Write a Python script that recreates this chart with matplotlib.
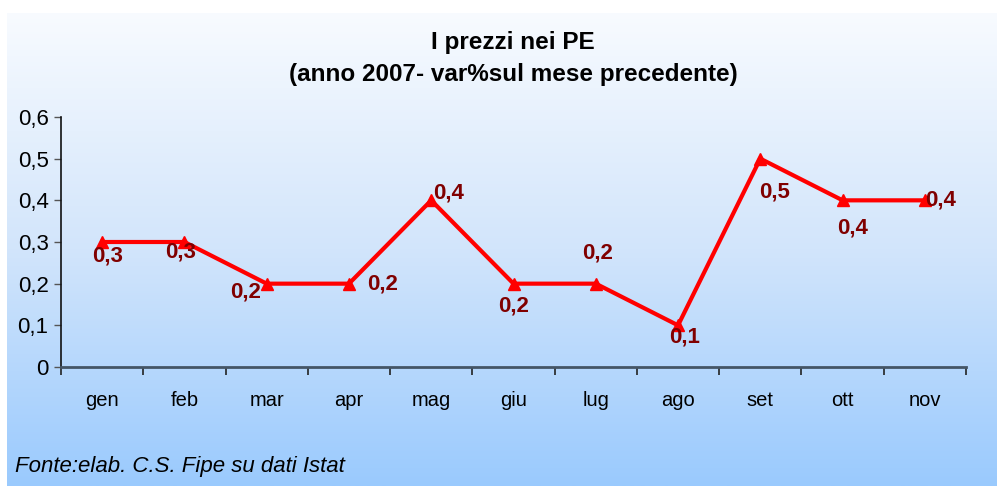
import numpy as np
import matplotlib
matplotlib.use("Agg")
import matplotlib.pyplot as plt
from matplotlib.colors import LinearSegmentedColormap

plt.rcParams['font.family'] = ['Liberation Sans', 'DejaVu Sans']

# DATA
mesi = ["gen", "feb", "mar", "apr", "mag", "giu", "lug", "ago", "set", "ott", "nov"]
var_pct = [0.3, 0.3, 0.2, 0.2, 0.4, 0.2, 0.2, 0.1, 0.5, 0.4, 0.4]
etichette = ["0,3", "0,3", "0,2", "0,2", "0,4", "0,2", "0,2", "0,1", "0,5", "0,4", "0,4"]
yticks = [0, 0.1, 0.2, 0.3, 0.4, 0.5, 0.6]
ytick_labels = ["0", "0,1", "0,2", "0,3", "0,4", "0,5", "0,6"]

# label offsets in pixels (dx, dy) - style only
label_off = [(5, -14), (-4, -10), (-21, -8), (34, 0), (17, 7), (0, -22),
             (2, 31), (7, -12), (14, -33), (10, -28), (16, 0)]

fig = plt.figure(figsize=(9.97, 4.86), dpi=100)
fig.patch.set_facecolor("white")

# gradient background box
bg = fig.add_axes([7 / 997, 0, 990 / 997, 1 - 13 / 486], zorder=0)
cmap = LinearSegmentedColormap.from_list("bg", ["#F8FBFF", "#D2E5FB", "#9ACAFE"])
grad = np.linspace(0, 1, 256).reshape(-1, 1)
bg.imshow(grad, aspect="auto", cmap=cmap, extent=[0, 1, 0, 1], origin="upper")
bg.set_axis_off()

ax = fig.add_axes([61 / 997, 1 - 367 / 486, (966 - 61) / 997, (367 - 117) / 486], zorder=1)
ax.patch.set_alpha(0)

x = np.arange(len(mesi))
ax.plot(x, var_pct, color="#FF0000", lw=3, marker="^", ms=8, mec="#FF0000", mfc="#FF0000",
        clip_on=False)

for i in range(len(mesi)):
    dx, dy = label_off[i]
    ax.annotate(etichette[i], (x[i], var_pct[i]), xytext=(dx, dy), textcoords="offset pixels",
                ha="center", va="center", fontsize=16, fontweight="bold", color="#800000")

ax.set_xlim(-0.5, len(mesi) - 0.5)
ax.set_ylim(0, 0.6)
ax.set_yticks(yticks)
ax.set_yticklabels(ytick_labels, fontsize=16)
ax.set_xticks(x)
ax.set_xticklabels(mesi, fontsize=14.5)
ax.set_xticks(np.arange(-0.5, len(mesi)), minor=True)
ax.tick_params(axis="x", which="major", length=0, pad=17)
ax.tick_params(axis="x", which="minor", length=6, width=1.2, color="#222222", direction="out")
ax.tick_params(axis="y", length=5, width=1, color="#555555", direction="out", pad=4)

for s in ["top", "right"]:
    ax.spines[s].set_visible(False)
ax.spines["left"].set_color("#111111")
ax.spines["left"].set_linewidth(1.2)
ax.spines["bottom"].set_color("#445566")
ax.spines["bottom"].set_linewidth(2)

fig.text(513 / 997, 1 - 43 / 486, "I prezzi nei PE", ha="center", va="center",
         fontsize=17.5, fontweight="bold")
fig.text(513 / 997, 1 - 75 / 486, "(anno 2007- var%sul mese precedente)", ha="center",
         va="center", fontsize=17.5, fontweight="bold")

fig.text(15 / 997, 1 - 466 / 486, "Fonte:elab. C.S. Fipe su dati Istat", ha="left",
         va="center", fontsize=16, style="italic")

fig.savefig("out.png", dpi=100)
